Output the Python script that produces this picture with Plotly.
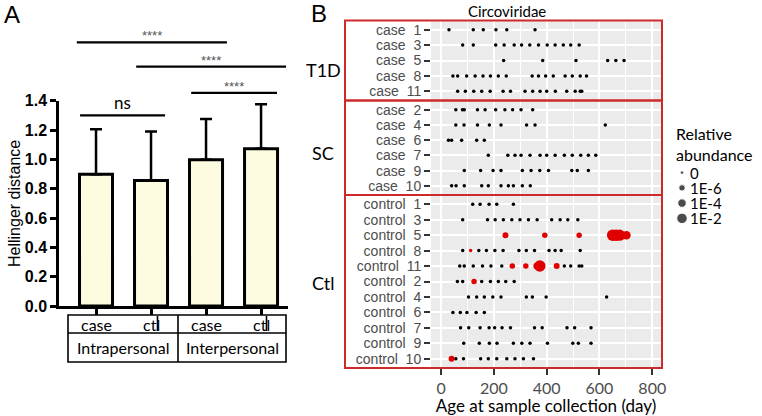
import math
import plotly.graph_objects as go

W, H = 762, 416

# ---------------- Panel A data ----------------
bar_groups = ["case", "ctl", "case", "ctl"]
bar_means = [0.898, 0.855, 0.998, 1.073]
bar_err = [0.307, 0.335, 0.277, 0.302]
table_top = ["case", "ctl", "case", "ctl"]
table_bottom = ["Intrapersonal", "Interpersonal"]
sig_x0 = [-0.29, 1.73, 0.73, -0.35]
sig_x1 = [1.255, 3.29, 3.455, 2.38]
sig_y = [1.30, 1.454, 1.633, 1.798]
sig_label = ["ns", "****", "****", "****"]
ytick_vals = [0.0, 0.2, 0.4, 0.6, 0.8, 1.0, 1.2, 1.4]

# ---------------- Panel B data ----------------
t1d_rows = ["case  1", "case  3", "case  5", "case  8", "case  11"]
sc_rows = ["case  2", "case  4", "case  6", "case  7", "case  9", "case  10"]
ctl_rows = ["control  1", "control  3", "control  5", "control  8", "control  11",
            "control  2", "control  4", "control  6", "control  7", "control  9", "control  10"]

case1 = [30, 122, 160, 208, 249, 356]
case3 = [82, 122, 207, 239, 277, 305, 336, 369, 402, 432, 463, 491, 523]
case5 = [237, 385, 511, 631, 662, 693]
case8 = [45, 63, 97, 129, 159, 187, 217, 247, 345, 369, 396, 425, 470, 497, 527, 551]
case11 = [63, 92, 124, 154, 186, 235, 263, 318, 347, 375, 400, 433, 476, 508, 527, 533]
case2 = [56, 81, 88, 138, 167, 207, 242, 271, 303, 347]
case4 = [56, 87, 138, 183, 227, 324, 356, 622]
case6 = [28, 40, 78, 135, 164]
case7 = [179, 253, 280, 303, 337, 375, 400, 432, 467, 497, 529, 558, 586]
case9 = [88, 150, 197, 227, 308, 341, 374, 407, 495, 516, 558]
case10 = [40, 57, 88, 154, 179, 227, 255, 274, 308, 338]
control1 = [120, 148, 182, 211, 274]
control3 = [82, 176, 205, 236, 268, 299, 331, 364, 419, 451, 480, 518]
control5 = []
control8 = [82, 143, 172, 204, 235, 295, 323, 354, 409, 432, 455, 527]
control11 = [71, 88, 122, 157, 189, 230, 467, 491, 523, 533]
control2 = [62, 82, 154, 187, 217, 245, 277]
control4 = [104, 135, 164, 196, 227, 323, 346, 398, 627]
control6 = [45, 73, 98, 133, 164]
control7 = [74, 105, 148, 182, 203, 231, 263, 354, 383, 477, 506, 568]
control9 = [86, 145, 183, 212, 274, 306, 337, 403, 499, 520, 568]
control10 = [56, 85, 150, 179, 211, 249, 280, 312, 350]

# detected (non-zero relative abundance) samples
red_subject = ["control  5", "control  5", "control  5", "control  5", "control  5", "control  5", "control  5",
               "control  8",
               "control  11", "control  11", "control  11", "control  11", "control  11",
               "control  2", "control  10"]
red_day = [244, 393, 523, 650, 663, 676, 702,
           112,
           270, 321, 362, 374, 438,
           125, 40]
red_abund = [3e-7, 1e-7, 1e-7, 0.1, 0.1, 0.08, 1e-4,
             1e-9,
             1e-7, 1e-7, 1e-6, 0.1, 3e-7,
             1e-7, 3e-7]

legend_vals = [0, 1e-6, 1e-4, 1e-2]
legend_text = ["0", "1E-6", "1E-4", "1E-2"]

x_ticks_b = [0, 200, 400, 600, 800]

row_days = {
    "case  1": case1, "case  3": case3, "case  5": case5, "case  8": case8, "case  11": case11,
    "case  2": case2, "case  4": case4, "case  6": case6, "case  7": case7, "case  9": case9,
    "case  10": case10,
    "control  1": control1, "control  3": control3, "control  5": control5, "control  8": control8,
    "control  11": control11, "control  2": control2, "control  4": control4, "control  6": control6,
    "control  7": control7, "control  9": control9, "control  10": control10,
}


def dot_size(a):
    if a == 0:
        return 3.5
    return 12.5 + math.log10(a)


def px(x):
    return x / W


def py(y):
    return 1 - y / H


SANS = "Lato, Open Sans, sans-serif"
ARIAL = "Liberation Sans, Arial, sans-serif"
RED = "#CD2A2A"

fig = go.Figure()

# ---------- Panel A ----------
fig.add_trace(go.Bar(
    x=list(range(len(bar_means))), y=bar_means, width=0.6,
    marker=dict(color="#FDFCE1", line=dict(color="black", width=3)),
    error_y=dict(type="data", array=bar_err, arrayminus=[0] * len(bar_err), symmetric=False,
                 thickness=2.5, width=6, color="black"),
    xaxis="x", yaxis="y", showlegend=False, hoverinfo="skip"))

for x0, x1, yv, lab in zip(sig_x0, sig_x1, sig_y, sig_label):
    fig.add_trace(go.Scatter(x=[x0, x1], y=[yv, yv], mode="lines",
                             line=dict(color="black", width=2.2),
                             xaxis="x", yaxis="y2", showlegend=False, hoverinfo="skip"))
    fig.add_annotation(x=(x0 + x1) / 2, y=yv, xref="x", yref="y2", text=lab, showarrow=False,
                       xanchor="center", yanchor="bottom", yshift=0 if lab == "ns" else -3,
                       font=dict(family=SANS if lab == "ns" else ARIAL,
                                 size=17 if lab == "ns" else 13,
                                 color="black" if lab == "ns" else "#555"))

# ---------- Panel B ----------
facets = [(t1d_rows, "y3"), (sc_rows, "y4"), (ctl_rows, "y5")]
for rows, yax in facets:
    xs, ys = [], []
    for r in rows:
        for d in row_days[r]:
            xs.append(d)
            ys.append(r)
    fig.add_trace(go.Scatter(x=xs, y=ys, mode="markers",
                             marker=dict(color="black", size=dot_size(0)),
                             xaxis="x2", yaxis=yax, showlegend=False, hoverinfo="skip"))
    rx = [d for s, d in zip(red_subject, red_day) if s in rows]
    ry = [s for s in red_subject if s in rows]
    rs = [dot_size(a) for s, a in zip(red_subject, red_abund) if s in rows]
    if rx:
        fig.add_trace(go.Scatter(x=rx, y=ry, mode="markers",
                                 marker=dict(color="#E00000", size=rs, opacity=1, line=dict(width=0)),
                                 xaxis="x2", yaxis=yax, showlegend=False, hoverinfo="skip"))

# legend (manual)
fig.add_trace(go.Scatter(x=[0.5] * len(legend_vals), y=list(range(len(legend_vals))), mode="markers",
                         marker=dict(color="black", size=[dot_size(v) for v in legend_vals]),
                         xaxis="x3", yaxis="y6", showlegend=False, hoverinfo="skip"))
for i, t in enumerate(legend_text):
    fig.add_annotation(x=1, y=i, xref="x3", yref="y6", text=t, showarrow=False,
                       xanchor="left", yanchor="middle", xshift=0,
                       font=dict(family=SANS, size=15, color="black"))

# ---------- axes ----------
fig.update_layout(
    width=W, height=H, margin=dict(l=0, r=0, t=0, b=0, autoexpand=False),
    paper_bgcolor="white", plot_bgcolor="rgba(0,0,0,0)",
    xaxis=dict(domain=[px(59), px(288)], range=[-0.673, 3.49], anchor="y",
               showline=True, linecolor="black", linewidth=2.5,
               ticks="outside", ticklen=6, tickwidth=2.5, tickcolor="black",
               tickvals=list(range(len(bar_groups))), showticklabels=False,
               showgrid=False, zeroline=False, fixedrange=True, automargin=False),
    yaxis=dict(domain=[py(306), py(100.7)], range=[0, 1.4], anchor="x",
               showline=True, linecolor="black", linewidth=2.5,
               ticks="outside", ticklen=6, tickwidth=2.5, tickcolor="black",
               tickvals=ytick_vals, ticktext=["%.1f" % v for v in ytick_vals],
               tickfont=dict(family=ARIAL, size=16, color="black", weight="bold"),
               showgrid=False, zeroline=False, automargin=False),
    yaxis2=dict(domain=[py(306), py(20)], range=[0, (306 - 20) / (306 - 100.7) * 1.4],
                anchor="x", visible=False),
    xaxis2=dict(domain=[px(431), px(661)], range=[-38, 833], anchor="y5",
                showline=False, ticks="outside", ticklen=6, tickwidth=1.5, tickcolor="#333",
                tickvals=x_ticks_b, tickfont=dict(family=SANS, size=16, color="#4D4D4D"),
                showgrid=True, gridcolor="white", gridwidth=1.5, zeroline=False,
                minor=dict(tickvals=[100, 300, 500, 700], showgrid=True, gridcolor="white",
                           gridwidth=0.7, ticks=""),
                automargin=False,
                title=dict(text="Age at sample collection (day)",
                           font=dict(family=SANS, size=17, color="black"), standoff=1)),
    xaxis3=dict(domain=[px(676), px(688)], range=[0, 1], anchor="y6", visible=False),
    yaxis6=dict(domain=[py(226), py(165)], range=[3.5, -0.5], anchor="x3", visible=False),
)

dom = {"y3": (20.5, 100.5), "y4": (100.5, 195), "y5": (195, 368)}
for rows, yax in facets:
    d0, d1 = dom[yax]
    fig.update_layout(**{
        "yaxis" + yax[1:]: dict(
            domain=[py(d1), py(d0)], type="category", categoryarray=rows,
            tickmode="array", tickvals=rows, ticktext=rows,
            range=[len(rows) - 0.4, -0.6], anchor="x2",
            showgrid=True, gridcolor="white", gridwidth=1.5, zeroline=False,
            ticks="outside", ticklen=6, tickwidth=1.5, tickcolor="#333", automargin=False,
            tickfont=dict(family=ARIAL, size=14, color="#4D4D4D"))
    })

shapes = []
# grey panel background
shapes.append(dict(type="rect", xref="paper", yref="paper", x0=px(431), x1=px(661),
                   y0=py(368), y1=py(20.5), fillcolor="#EBEBEB", line=dict(width=0), layer="below"))
# red facet boxes
for y0, y1 in [(20.5, 100.5), (100.5, 195), (195, 368)]:
    shapes.append(dict(type="rect", xref="paper", yref="paper", x0=px(345), x1=px(662),
                       y0=py(y1), y1=py(y0), line=dict(color=RED, width=2), fillcolor="rgba(0,0,0,0)",
                       layer="above"))
# panel A table
tl = dict(color="black", width=1.6)
shapes.append(dict(type="rect", xref="paper", yref="paper", x0=px(68), x1=px(286),
                   y0=py(362), y1=py(315), line=tl))
shapes.append(dict(type="line", xref="paper", yref="paper", x0=px(68), x1=px(286),
                   y0=py(333), y1=py(333), line=tl))
shapes.append(dict(type="line", xref="paper", yref="paper", x0=px(178), x1=px(178),
                   y0=py(362), y1=py(315), line=tl))
for xx in [157.5, 266.5]:
    shapes.append(dict(type="line", xref="paper", yref="paper", x0=px(xx), x1=px(xx),
                       y0=py(331), y1=py(316), line=tl))
fig.update_layout(shapes=shapes)

C = dict(xanchor="center", yanchor="middle", showarrow=False)
anns = []
for i, t in enumerate(table_top):
    anns.append(dict(x=i, y=py(324), xref="x", yref="paper", text=t,
                     font=dict(family=SANS, size=16, color="black"), **C))
for cx, t in zip([123, 232], table_bottom):
    anns.append(dict(x=px(cx), y=py(347), xref="paper", yref="paper", text=t,
                     font=dict(family=SANS, size=16, color="black"), **C))
anns.append(dict(x=px(14), y=py(204), xref="paper", yref="paper", text="Hellinger distance",
                 textangle=-90, font=dict(family=ARIAL, size=16, color="black"), **C))
anns.append(dict(x=px(12), y=py(15), xref="paper", yref="paper", text="A",
                 font=dict(family=ARIAL, size=24, color="black"), **C))
anns.append(dict(x=px(319), y=py(14), xref="paper", yref="paper", text="B",
                 font=dict(family=ARIAL, size=24, color="black"), **C))
anns.append(dict(x=px(507), y=py(11), xref="paper", yref="paper", text="Circoviridae",
                 font=dict(family=SANS, size=15, color="black"), **C))
for t, yy in [("T1D", 70), ("SC", 153), ("Ctl", 283)]:
    anns.append(dict(x=px(323), y=py(yy), xref="paper", yref="paper", text=t,
                     font=dict(family=SANS, size=18, color="black"), **C))
anns.append(dict(x=px(674), y=py(144), xref="paper", yref="paper", text="Relative<br>abundance",
                 showarrow=False, xanchor="left", yanchor="middle", align="left",
                 font=dict(family=SANS, size=16, color="black")))
for a in anns:
    fig.add_annotation(**a)

fig.write_html("out.html", config={"displayModeBar": False},
               post_script="document.body.style.margin='0px';")
